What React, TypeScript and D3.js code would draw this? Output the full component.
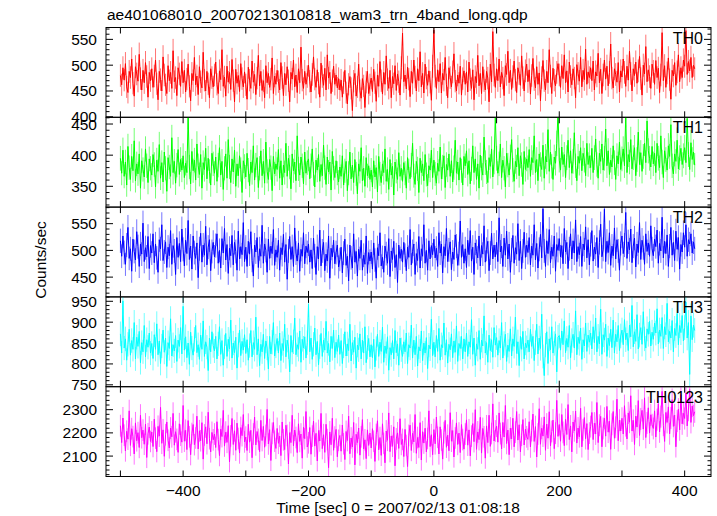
import React from "react";
import * as d3 from "d3";

// time bins: start (s) and width (s)
const T0 = -500;
const DT = 2;

const th0 = [
480,462,495,471,503,458,447,488,476,512,465,440,497,483,469,521,474,452,490,466,505,478,438,486,470,
493,457,479,510,464,433,488,472,450,516,481,462,445,499,470,486,455,528,468,476,441,495,483,459,507,
466,490,448,473,502,459,431,484,470,515,462,479,443,497,468,456,525,471,450,488,464,437,493,476,458,
481,506,463,445,489,472,530,459,477,440,498,467,486,453,511,470,429,492,465,480,449,503,474,458,487,
462,434,496,471,455,508,467,482,443,475,519,460,488,451,470,437,499,466,484,457,473,514,445,479,463,
490,468,452,505,476,441,484,462,497,470,429,486,473,510,458,481,447,493,466,535,471,455,488,463,478,
500,469,448,482,516,473,457,491,465,438,504,478,461,494,452,520,475,486,445,470,498,463,481,456,474,
452,471,438,466,490,447,425,463,478,455,412,469,484,440,458,502,451,436,474,460,418,467,488,445,462,
475,449,492,466,430,481,459,507,470,444,486,463,518,472,455,490,437,478,464,499,451,483,468,442,495,
562,468,481,454,496,473,439,488,465,510,477,450,493,470,526,458,484,446,502,475,461,489,467,432,498,
568,479,455,491,468,503,446,484,471,515,462,437,495,476,458,487,522,469,450,481,465,498,442,474,489,
463,487,448,506,472,455,491,433,478,466,519,460,484,445,497,470,452,488,475,429,502,468,565,481,457,
493,470,512,458,486,475,441,499,482,527,466,490,453,478,508,471,447,495,484,461,518,476,450,489,502,
468,491,444,480,513,472,456,497,463,485,431,476,509,470,452,488,466,530,479,445,494,471,460,486,503,
481,457,499,474,520,466,489,448,506,478,462,493,475,437,501,484,469,515,458,490,472,531,463,487,476,
495,470,508,452,487,479,523,466,492,445,481,510,473,498,460,486,541,475,456,493,482,467,505,448,489,
477,512,486,459,498,471,527,484,450,493,480,506,465,489,517,474,442,500,483,536,468,491,478,455,502,
488,463,509,476,494,447,481,563,470,499,457,485,514,472,434,490,479,505,461,487,520,468,495,476,510,
498,567,482,507,489,515,476,500,493,
];

const th1 = [
395,371,408,366,389,352,414,380,361,398,375,423,359,386,370,402,347,391,377,365,410,383,356,394,379,
368,401,385,349,392,374,417,363,388,357,405,379,342,396,381,366,428,372,390,355,384,409,369,393,376,
399,364,387,372,463,381,354,406,375,392,360,418,383,369,401,347,388,377,411,362,395,374,352,403,386,
371,397,358,384,412,368,390,345,379,402,363,425,381,356,394,373,408,350,386,367,399,377,340,391,382,
365,403,376,351,389,372,415,360,384,396,348,379,407,367,390,355,421,374,361,393,380,343,398,370,386,
377,409,363,391,352,384,372,419,366,395,381,346,402,375,389,359,431,378,368,397,383,354,405,371,388,
394,362,383,410,370,349,392,376,401,358,385,367,416,380,353,397,373,389,344,406,379,364,391,371,357,
381,366,399,352,375,390,343,371,405,362,384,356,393,370,338,386,374,412,359,379,350,396,367,383,361,
376,349,391,365,380,341,398,370,356,386,372,410,358,377,345,393,368,382,336,389,374,361,404,366,379,
358,388,371,347,396,375,362,384,419,367,353,390,378,340,395,372,386,359,401,369,351,383,376,408,364,
392,370,355,387,374,413,362,381,399,348,385,376,402,366,391,357,380,424,371,389,360,396,375,352,398,
383,407,369,391,354,378,415,372,394,361,386,347,400,379,368,429,388,373,356,396,382,410,365,389,462,
395,371,386,418,364,392,379,349,403,384,368,397,425,376,358,390,381,412,367,399,385,353,406,377,394,
380,409,366,396,388,431,372,393,359,402,385,377,416,363,398,389,441,374,405,382,361,397,387,419,470,
392,376,413,385,401,364,396,424,380,407,371,390,436,383,359,398,387,412,375,403,392,367,419,385,399,
380,411,372,396,426,385,363,403,390,418,376,395,442,383,407,369,392,381,415,388,361,399,386,421,377,
394,410,383,466,372,401,389,425,378,396,412,367,393,437,385,404,374,398,419,388,455,407,395,381,414,
386,403,372,419,395,380,431,389,364,407,393,376,415,398,449,383,370,402,390,424,378,396,411,385,399,
412,388,459,401,377,420,393,405,384,
];

const th2 = [
518,489,527,496,474,510,543,485,503,461,521,498,482,535,507,470,512,493,551,479,505,488,526,466,509,
495,531,477,512,486,459,520,503,548,481,497,516,468,506,490,537,474,509,499,455,524,487,513,479,540,
502,471,519,494,556,483,508,465,527,496,485,514,449,503,532,478,510,491,545,473,506,520,462,498,515,
488,509,531,476,500,467,522,495,541,482,511,457,504,490,528,473,515,498,463,536,484,507,492,552,479,
506,470,517,493,535,481,452,510,497,524,468,503,489,547,476,512,500,459,521,485,508,494,539,472,501,
487,519,463,505,492,530,478,511,446,499,526,483,507,470,542,495,480,514,461,502,489,533,475,508,496,
512,478,501,466,523,490,455,507,484,538,471,499,515,462,493,480,527,448,504,488,519,475,496,510,469,
483,506,458,495,521,472,489,443,510,486,467,531,478,498,452,502,485,519,463,491,474,527,457,496,480,
497,465,514,482,448,505,490,533,471,487,459,508,494,476,522,451,499,483,517,468,492,440,510,485,502,
478,515,491,462,506,487,539,473,498,512,455,494,481,526,467,503,489,548,476,500,463,518,484,509,492,
521,486,504,470,533,495,512,458,507,490,541,479,501,516,464,497,483,529,508,472,494,555,487,511,476,
503,468,519,492,537,480,506,455,514,498,486,527,471,509,493,546,478,502,517,462,495,532,484,510,488,
515,479,561,497,508,470,523,491,536,484,512,459,501,528,476,505,493,550,481,517,466,499,534,487,510,
496,524,473,508,491,548,482,513,467,502,530,486,578,499,470,518,494,539,477,506,489,527,461,511,500,
522,488,509,475,541,497,515,466,503,531,484,518,495,557,479,507,492,526,470,512,501,544,486,520,473,
511,537,480,506,493,524,468,515,549,488,502,577,479,517,496,533,472,508,490,542,484,520,499,463,513,
527,494,510,571,485,516,501,540,477,508,523,469,512,496,552,483,519,505,474,531,498,514,489,546,503,
490,521,507,538,476,513,499,562,486,517,494,529,470,508,543,491,515,481,536,502,524,465,511,497,533,
506,548,489,520,512,531,495,516,503,
];

const th3 = [
872,826,951,838,860,809,847,883,821,856,835,899,812,864,842,878,803,851,829,892,817,858,840,874,826,
849,813,870,835,896,822,855,801,843,881,828,862,794,851,837,908,819,846,831,868,806,857,842,887,824,
938,833,865,815,850,799,876,838,821,859,892,827,846,811,869,835,903,818,853,840,784,862,829,877,844,
831,866,812,848,889,823,856,797,841,873,818,859,836,905,814,850,827,864,790,845,881,820,854,833,870,
825,858,809,844,880,817,851,835,912,822,860,796,847,829,871,813,855,838,788,866,824,852,899,819,843,
861,826,874,808,849,832,895,817,857,841,781,868,828,853,910,822,846,835,879,804,859,838,865,814,851,
943,829,862,811,847,886,822,854,798,841,873,818,857,833,902,826,849,805,866,837,881,815,852,830,869,
823,856,801,843,877,819,848,832,895,807,851,828,864,790,845,834,872,812,857,826,889,803,840,861,817,
846,815,859,793,837,871,818,852,830,888,804,843,825,865,785,839,822,856,812,880,827,848,797,862,834,
818,853,829,874,801,846,838,893,814,857,822,866,795,841,831,879,808,850,826,863,789,845,836,907,820,
852,817,868,830,885,809,846,839,898,821,858,802,847,834,872,815,855,828,891,806,849,837,866,812,860,
829,874,818,853,840,906,823,862,797,848,835,880,811,857,843,915,826,851,804,869,832,858,816,887,845,
863,821,856,838,899,814,849,871,806,845,830,884,819,860,842,912,825,853,796,866,835,878,812,850,839,
857,829,883,842,866,808,851,895,824,862,837,919,818,772,845,877,801,860,834,889,826,849,872,781,864,
868,833,879,846,903,827,861,840,892,815,856,871,838,927,822,864,849,886,811,858,843,898,830,869,852,
874,836,889,851,910,829,866,848,931,823,870,857,895,818,862,844,883,839,905,826,871,853,892,832,867,
881,846,906,858,874,832,893,865,940,841,877,854,918,836,869,887,847,925,860,838,884,871,902,843,876,
859,898,874,932,848,881,866,911,837,889,870,945,853,878,862,904,829,885,868,921,846,892,875,916,855,
887,948,862,899,775,915,858,893,880,
];

const th0123 = [
2231,2158,2264,2190,2122,2207,2173,2295,2146,2218,2184,2109,2243,2166,2201,2137,2276,2179,2212,2151,2238,2094,2196,2225,2163,
2204,2141,2259,2177,2119,2228,2186,2310,2155,2213,2099,2192,2247,2168,2135,2221,2183,2284,2147,2205,2172,2116,2239,2190,2160,
2318,2164,2211,2128,2253,2183,2106,2197,2236,2149,2178,2272,2131,2209,2166,2244,2087,2191,2226,2153,2289,2175,2118,2202,2170,
2195,2137,2248,2171,2102,2216,2184,2297,2143,2203,2159,2231,2075,2187,2262,2150,2209,2125,2242,2176,2113,2223,2188,2279,2161,
2182,2124,2237,2160,2211,2093,2195,2268,2148,2206,2172,2119,2254,2167,2228,2138,2189,2301,2152,2214,2081,2198,2245,2164,2133,
2219,2155,2186,2102,2247,2170,2128,2233,2189,2066,2201,2158,2276,2144,2212,2180,2115,2239,2163,2195,2091,2224,2175,2292,2139,
2157,2223,2108,2186,2251,2143,2198,2079,2210,2165,2284,2132,2192,2116,2237,2171,2050,2204,2149,2263,2125,2182,2215,2097,2168,
2189,2121,2234,2153,2085,2206,2167,2272,2110,2178,2139,2245,2062,2194,2158,2221,2104,2183,2257,2131,2170,2089,2213,2146,2199,
2135,2218,2164,2077,2193,2252,2127,2180,2103,2239,2155,2071,2208,2168,2286,2119,2187,2142,2226,2058,2174,2200,2133,2261,2150,
2172,2098,2215,2146,2055,2189,2233,2124,2198,2161,2279,2112,2180,2137,2244,2083,2205,2156,2220,2118,2176,2295,2141,2192,2106,
2214,2153,2268,2181,2109,2226,2169,2087,2201,2254,2138,2190,2123,2287,2164,2210,2096,2178,2243,2150,2199,2115,2236,2171,2130,
2195,2256,2147,2213,2101,2186,2240,2162,2300,2129,2204,2171,2267,2113,2219,2183,2091,2230,2158,2276,2142,2197,2325,2165,2208,
2229,2160,2286,2197,2131,2245,2182,2318,2154,2212,2106,2221,2174,2263,2140,2203,2292,2169,2235,2118,2190,2257,2148,2216,2183,
2172,2248,2139,2210,2281,2163,2227,2096,2195,2304,2151,2220,2186,2269,2125,2238,2177,2291,2144,2206,2255,2132,2199,2340,2185,
2236,2164,2279,2202,2145,2258,2193,2322,2171,2230,2118,2247,2209,2294,2156,2221,2183,2306,2140,2213,2266,2175,2240,2128,2199,
2227,2288,2171,2242,2195,2331,2158,2233,2271,2140,2219,2263,2186,2314,2203,2250,2129,2237,2292,2177,2224,2345,2166,2255,2208,
2263,2195,2317,2231,2174,2286,2246,2360,2208,2254,2150,2272,2225,2339,2189,2260,2297,2216,2351,2180,2243,2308,2199,2278,2235,
2219,2295,2182,2257,2326,2204,2270,2379,2233,2163,2288,2245,2312,2196,2264,2343,2228,2277,2140,2251,2302,2213,2365,2239,2284,
2262,2371,2230,2298,2387,2245,2316,2274,2291,
];

const bandNames = ["TH0", "TH1", "TH2", "TH3", "TH0123"];
const bandValues = [th0, th1, th2, th3, th0123];
const yDomains: [number, number][] = [
  [399, 573],
  [316.6, 460.8],
  [413, 581],
  [745.5, 960.5],
  [2012, 2399],
];
const yMajor = [50, 50, 50, 50, 100];
const yMinor = [10, 10, 10, 10, 20];
const xDomain: [number, number] = [-523, 442];
const xTickStep = 100;
const xLabelStep = 200;

const colors = ["#ff0000", "#00ff00", "#0000ff", "#00ffff", "#ff00ff"];

const W = 717;
const H = 516;
const LEFT = 106;
const RIGHT = 711;
const TOP = 27.5;
const BOTTOM = 476.5;
const PH = (BOTTOM - TOP) / 5;
const FONT = "'Liberation Sans', Arial, Helvetica, sans-serif";

function ticksBetween(d0: number, d1: number, step: number): number[] {
  const out: number[] = [];
  const start = Math.ceil(d0 / step - 1e-9);
  for (let k = start; k * step <= d1 + 1e-9; k++) out.push(+(k * step).toFixed(6));
  return out;
}

export default function App() {
  const x = d3.scaleLinear().domain(xDomain).range([LEFT, RIGHT]);
  const xTicks = ticksBetween(xDomain[0], xDomain[1], xTickStep);
  const xLabels = ticksBetween(xDomain[0], xDomain[1], xLabelStep);

  return (
    <svg
      width={W}
      height={H}
      viewBox={`0 0 ${W} ${H}`}
      style={{ position: "absolute", left: 0, top: 0, background: "#fff" }}
      fontFamily={FONT}
    >
      <rect x={0} y={0} width={W} height={H} fill="#fff" />
      <defs>
        {bandNames.map((_, p) => (
          <clipPath id={`clip${p}`} key={p}>
            <rect x={LEFT} y={TOP + p * PH} width={RIGHT - LEFT} height={PH} />
          </clipPath>
        ))}
      </defs>
      <text x={107} y={20} fontSize={15.5} fill="#000">
        ae401068010_20070213010818_wam3_trn_4band_long.qdp
      </text>
      {bandNames.map((name, p) => {
        const y0 = TOP + p * PH;
        const y1 = y0 + PH;
        const vals = bandValues[p];
        const y = d3.scaleLinear().domain(yDomains[p]).range([y1, y0]);
        const tx = (i: number) => x(T0 + i * DT);
        const line = d3
          .line<number>()
          .x((_, i) => tx(i))
          .y((v) => y(v));
        let err = "";
        vals.forEach((v, i) => {
          const e = Math.sqrt(v);
          err += `M${tx(i).toFixed(2)},${y(v + e).toFixed(2)}V${y(v - e).toFixed(2)}`;
        });
        const majors = ticksBetween(yDomains[p][0], yDomains[p][1], yMajor[p]);
        const minors = ticksBetween(yDomains[p][0], yDomains[p][1], yMinor[p]).filter(
          (t) => Math.abs(t / yMajor[p] - Math.round(t / yMajor[p])) > 1e-6
        );
        return (
          <g key={name}>
            <g clipPath={`url(#clip${p})`}>
              <path d={err} stroke={colors[p]} strokeOpacity={0.55} strokeWidth={1} fill="none" />
              <path d={line(vals) || ""} stroke={colors[p]} strokeWidth={1} fill="none" />
            </g>
            <rect x={LEFT} y={y0} width={RIGHT - LEFT} height={PH} fill="none" stroke="#000" strokeWidth={1} />
            {xTicks.map((t) => (
              <g key={`xt${t}`}>
                <line x1={x(t)} x2={x(t)} y1={y0} y2={y0 + 6} stroke="#000" strokeWidth={1} />
                <line x1={x(t)} x2={x(t)} y1={y1} y2={y1 - 6} stroke="#000" strokeWidth={1} />
              </g>
            ))}
            {majors.map((t) => (
              <g key={`ym${t}`}>
                <line x1={LEFT} x2={LEFT + 7} y1={y(t)} y2={y(t)} stroke="#000" strokeWidth={1} />
                <line x1={RIGHT} x2={RIGHT - 7} y1={y(t)} y2={y(t)} stroke="#000" strokeWidth={1} />
                <text x={97} y={y(t) + 5.5} fontSize={15.5} textAnchor="end" fill="#000">
                  {t}
                </text>
              </g>
            ))}
            {minors.map((t) => (
              <g key={`yn${t}`}>
                <line x1={LEFT} x2={LEFT + 3.5} y1={y(t)} y2={y(t)} stroke="#000" strokeWidth={1} />
                <line x1={RIGHT} x2={RIGHT - 3.5} y1={y(t)} y2={y(t)} stroke="#000" strokeWidth={1} />
              </g>
            ))}
            <text x={703} y={y0 + 16} fontSize={16} textAnchor="end" fill="#000">
              {name}
            </text>
          </g>
        );
      })}
      {xLabels.map((t) => (
        <text key={`xl${t}`} x={x(t)} y={496} fontSize={15.5} textAnchor="middle" fill="#000">
          {t < 0 ? `\u2212${Math.abs(t)}` : `${t}`}
        </text>
      ))}
      <text x={398} y={512.5} fontSize={15.5} textAnchor="middle" fill="#000">
        Time [sec] 0 = 2007/02/13 01:08:18
      </text>
      <text
        transform={`translate(46,260) rotate(-90)`}
        fontSize={15.5}
        textAnchor="middle"
        fill="#000"
      >
        Counts/sec
      </text>
    </svg>
  );
}
